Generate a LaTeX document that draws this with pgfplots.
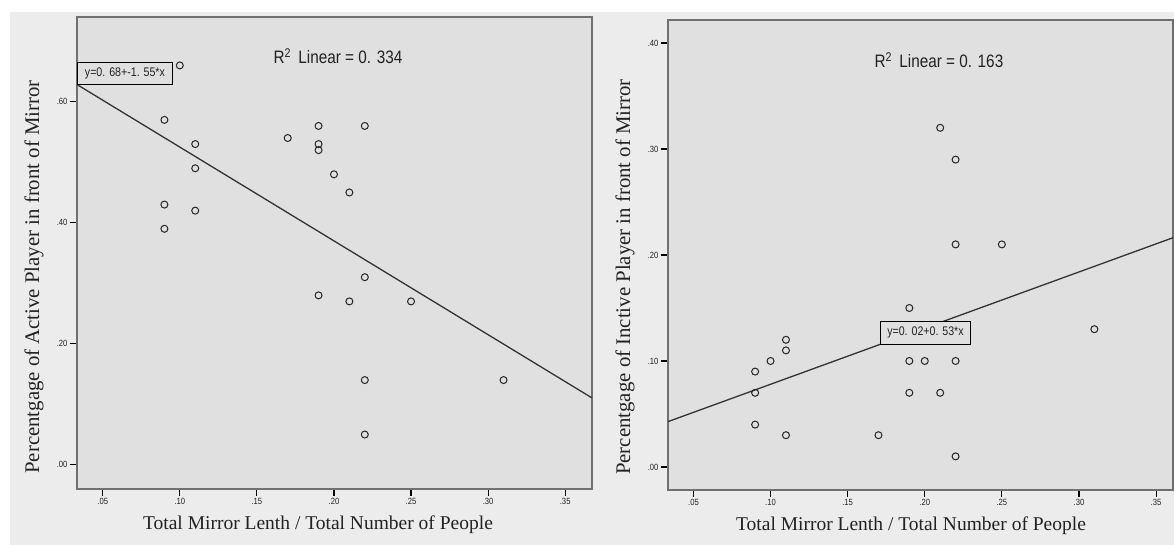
\documentclass[border=0pt]{standalone}
\usepackage{fontspec}
\setmainfont{Liberation Serif}
\newfontfamily\lsans{Liberation Sans}
\newfontfamily\nsans[FakeStretch=0.85]{Liberation Sans}
\usepackage{pgfplots}
\pgfplotsset{compat=1.18}
\definecolor{outergray}{HTML}{ECECEC}
\definecolor{innergray}{HTML}{E0E0E0}
\definecolor{framegray}{HTML}{707070}
\definecolor{txt}{HTML}{222222}
\pgfplotsset{
  spss/.style={
    scale only axis,
    axis background/.style={fill=innergray},
    axis line style={draw=framegray, line width=1.6pt},
    tick align=outside,
    xtick pos=bottom, ytick pos=left,
    major tick length=7pt,
    every tick/.style={black, line width=1.1pt},
    tick label style={font=\nsans\fontsize{9}{10}\selectfont, text=txt},
    xticklabel style={yshift=1pt},
    yticklabel style={xshift=1pt},
    clip=false,
  },
}
\begin{document}
\begin{tikzpicture}[x=1pt,y=1pt]
\useasboundingbox (0,0) rectangle (1174,545);
\fill[white] (0,0) rectangle (1174,545);
\fill[outergray] (10,0) rectangle (1174,533);

% Left panel
\begin{axis}[spss,
  at={(77pt,56pt)}, anchor=south west,
  width=515pt, height=472pt,
  xmin=0.0333, xmax=0.3674, ymin=-0.040, ymax=0.740,
  xtick={0.05,0.10,0.15,0.20,0.25,0.30,0.35},
  xticklabels={.05,.10,.15,.20,.25,.30,.35},
  ytick={0,0.2,0.4,0.6},
  yticklabels={.00,.20,.40,.60},
]
\addplot[no marks, color=black!80, line width=1.3pt] coordinates {(0.0333,0.6284) (0.3674,0.1105)};
\addplot[only marks, mark=o, mark size=3.5pt, mark options={black!85, line width=1pt}] coordinates {
(0.10,0.66) (0.09,0.57) (0.11,0.53) (0.11,0.49) (0.09,0.43) (0.11,0.42) (0.09,0.39)
(0.17,0.54) (0.19,0.56) (0.19,0.53) (0.19,0.52) (0.22,0.56) (0.20,0.48) (0.21,0.45)
(0.22,0.31) (0.19,0.28) (0.21,0.27) (0.25,0.27) (0.22,0.14) (0.31,0.14) (0.22,0.05)
};
\node[draw=black, line width=0.9pt, fill=innergray, anchor=south west, minimum width=95pt, minimum height=22pt, inner sep=1pt, font=\nsans\fontsize{12.5}{13}\selectfont, text=txt] at (axis cs:0.0333,0.628) {y=0. 68+-1. 55*x};
\node[font=\nsans\fontsize{18}{19}\selectfont, text=txt] at (axis cs:0.2026,0.6755) {R\textsuperscript{2}\, Linear = 0. 334};
\end{axis}

% Right panel
\begin{axis}[spss,
  at={(668pt,55pt)}, anchor=south west,
  width=505pt, height=470pt,
  xmin=0.0335, xmax=0.361, ymin=-0.0217, ymax=0.4217,
  xtick={0.05,0.10,0.15,0.20,0.25,0.30,0.35},
  xticklabels={.05,.10,.15,.20,.25,.30,.35},
  ytick={0,0.1,0.2,0.3,0.4},
  yticklabels={.00,.10,.20,.30,.40},
]
\addplot[no marks, color=black!80, line width=1.3pt] coordinates {(0.0335,0.0428) (0.361,0.2163)};
\addplot[only marks, mark=o, mark size=3.5pt, mark options={black!85, line width=1pt}] coordinates {
(0.21,0.32) (0.22,0.29) (0.22,0.21) (0.25,0.21) (0.19,0.15) (0.31,0.13)
(0.11,0.12) (0.11,0.11) (0.10,0.10) (0.09,0.09) (0.09,0.07)
(0.19,0.10) (0.20,0.10) (0.22,0.10) (0.19,0.07) (0.21,0.07)
(0.09,0.04) (0.11,0.03) (0.17,0.03) (0.22,0.01)
};
\node[draw=black, line width=0.9pt, fill=innergray, anchor=south west, minimum width=90pt, minimum height=23pt, inner sep=1pt, font=\nsans\fontsize{12.5}{13}\selectfont, text=txt] at (axis cs:0.171,0.1156) {y=0. 02+0. 53*x};
\node[font=\nsans\fontsize{18}{19}\selectfont, text=txt] at (axis cs:0.2092,0.384) {R\textsuperscript{2}\, Linear = 0. 163};
\end{axis}

% Axis titles
\node[font=\fontsize{19.5}{21}\selectfont, text=txt] at (318,20) {Total Mirror Lenth / Total Number of People};
\node[font=\fontsize{19.5}{21}\selectfont, text=txt] at (911,19) {Total Mirror Lenth / Total Number of People};
\node[font=\fontsize{20.8}{22}\selectfont, text=txt, rotate=90] at (34,268) {Percentgage of Active Player in front of Mirror};
\node[font=\fontsize{20.8}{22}\selectfont, text=txt, rotate=90] at (625,268) {Percentgage of Inctive Player in front of Mirror};
\end{tikzpicture}
\end{document}
